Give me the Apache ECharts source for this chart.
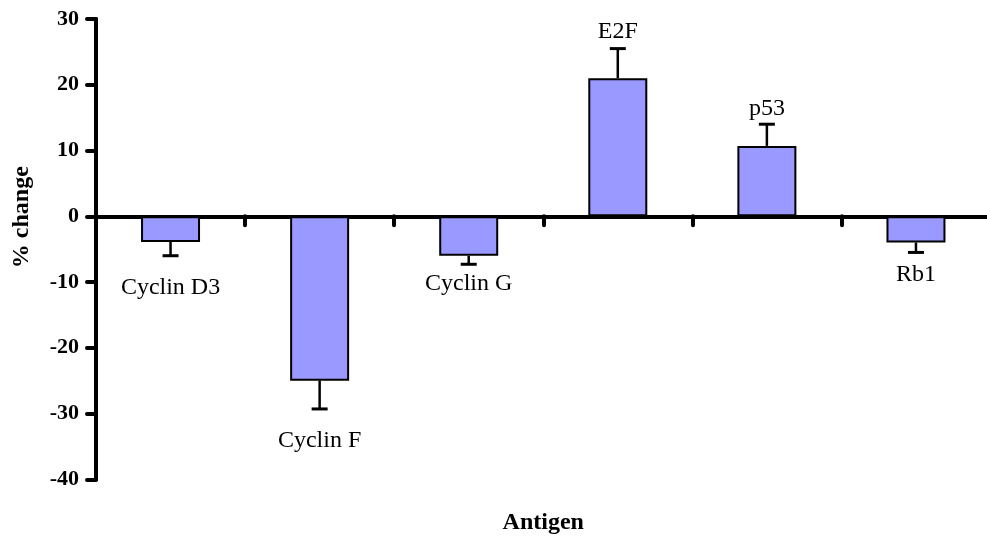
<!DOCTYPE html>
<html>
<head>
<meta charset="utf-8">
<script src="https://cdn.jsdelivr.net/npm/echarts@6/dist/echarts.min.js"></script>
<style>html,body{margin:0;padding:0;background:#fff}#c{width:987px;height:537px}</style>
</head>
<body>
<div id="c"></div>
<script>
// ---- data ----
const categories = ['Cyclin D3', 'Cyclin F', 'Cyclin G', 'E2F', 'p53', 'Rb1'];
const values = [-3.9, -25.0, -6.0, 21.0, 10.7, -4.0];
const errors = [2.1, 4.3, 1.3, 4.5, 3.3, 1.5];
const yTicks = { min: -40, max: 30, interval: 10 };

// ---- style (label distance in px from error-bar end to label centre) ----
const labelGap = [32, 32, 19, 17, 16, 22];
const serif = '"Liberation Serif", "Times New Roman", serif';

const chart = echarts.init(document.getElementById('c'), null, { renderer: 'canvas' });

const errData = values.map((v, i) => [i, v, v + Math.sign(v) * errors[i]]);

chart.setOption({
  animation: false,
  backgroundColor: '#fff',
  grid: { left: 96, top: 19, width: 894.5, height: 460.3, containLabel: false, outerBoundsMode: 'none' },
  xAxis: {
    type: 'category',
    data: categories,
    boundaryGap: true,
    name: 'Antigen',
    nameLocation: 'middle',
    nameGap: 31,
    nameTextStyle: { fontFamily: serif, fontWeight: 'bold', fontSize: 24, color: '#000' },
    axisLine: { onZero: true, lineStyle: { color: '#000', width: 4 } },
    axisTick: { show: true, inside: false, length: 9, alignWithLabel: false, lineStyle: { color: '#000', width: 4, cap: 'round' } },
    axisLabel: { show: false },
    splitLine: { show: false }
  },
  yAxis: {
    type: 'value',
    min: yTicks.min, max: yTicks.max, interval: yTicks.interval,
    name: '% change',
    nameLocation: 'middle',
    nameRotate: 90,
    nameGap: 62,
    nameTextStyle: { fontFamily: serif, fontWeight: 'bold', fontSize: 24, color: '#000', padding: [0, 0, 0, 64] },
    axisLine: { show: true, lineStyle: { color: '#000', width: 4 } },
    axisTick: { show: true, inside: false, length: 9, lineStyle: { color: '#000', width: 4, cap: 'round' } },
    axisLabel: { margin: 17, fontFamily: serif, fontWeight: 'bold', fontSize: 22, color: '#000' },
    splitLine: { show: false }
  },
  series: [
    {
      type: 'bar',
      data: values,
      barWidth: 59,
      itemStyle: { color: '#9999FF', borderColor: '#000', borderWidth: 2 },
      z: 2
    },
    {
      type: 'custom',
      data: errData,
      z: 3,
      renderItem: function (params, api) {
        const i = api.value(0);
        const v = api.value(1);
        const e = api.value(2);
        const p0 = api.coord([i, v]);
        const p1 = api.coord([i, e]);
        const half = 8;
        const dir = v < 0 ? 1 : -1;
        return {
          type: 'group',
          children: [
            { type: 'line', shape: { x1: p0[0], y1: p0[1], x2: p1[0], y2: p1[1] }, style: { stroke: '#000', lineWidth: 2.5 } },
            { type: 'line', shape: { x1: p1[0] - half, y1: p1[1], x2: p1[0] + half, y2: p1[1] }, style: { stroke: '#000', lineWidth: 3 } },
            { type: 'text', style: { text: categories[i], x: p1[0], y: p1[1] + dir * labelGap[i], align: 'center', verticalAlign: 'middle', font: '24px ' + serif, fill: '#000' } }
          ]
        };
      }
    }
  ]
});
</script>
</body>
</html>
